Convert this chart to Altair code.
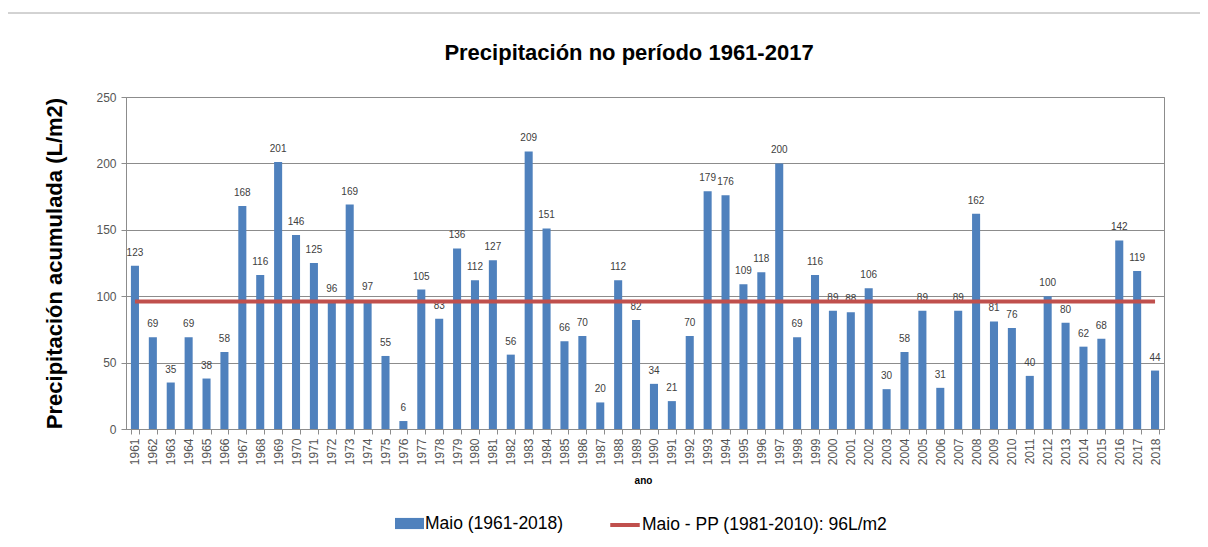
import altair as alt
import pandas as pd

years = [str(y) for y in range(1961, 2019)]
valores = [123, 69, 35, 69, 38, 58, 168, 116, 201, 146,
           125, 96, 169, 97, 55, 6, 105, 83, 136, 112,
           127, 56, 209, 151, 66, 70, 20, 112, 82, 34,
           21, 70, 179, 176, 109, 118, 200, 69, 116, 89,
           88, 106, 30, 58, 89, 31, 89, 162, 81, 76,
           40, 100, 80, 62, 68, 142, 119, 44]
media_pp = 96
serie_barras = "Maio (1961-2018)"
serie_linha = "Maio - PP (1981-2010): 96L/m2"

df = pd.DataFrame({
    "ano": years,
    "valor": valores,
    "pp": [media_pp] * len(years),
    "serie_b": serie_barras,
    "serie_l": serie_linha,
})

FONT = "Liberation Sans"
W, H = 1038, 332

xenc = alt.X("ano:N", sort=years,
             scale=alt.Scale(paddingInner=0.55, paddingOuter=0.275),
             axis=alt.Axis(title="ano", labelAngle=270, labelFontSize=12,
                           labelColor="#555555", labelFont=FONT,
                           labelPadding=4, tickSize=5, tickBand="extent",
                           tickColor="#8c8c8c", domainColor="#8c8c8c",
                           titleFontSize=10, titleFont=FONT, titleFontWeight="bold",
                           titleX=W / 2 - 2, titleY=51, titleBaseline="middle",
                           titleColor="#000000"))

base = alt.Chart(df)

bars = base.mark_bar(color="#4F81BD").encode(
    x=xenc,
    y=alt.Y("valor:Q",
            scale=alt.Scale(domain=[0, 250], nice=False),
            axis=alt.Axis(title="Precipitación acumulada (L/m2)",
                          values=[0, 50, 100, 150, 200, 250],
                          labelFontSize=12, labelColor="#555555", labelFont=FONT,
                          labelPadding=5, tickSize=5, tickColor="#8c8c8c",
                          domainColor="#8c8c8c", gridColor="#8c8c8c",
                          titleFontSize=22, titleFont=FONT, titleFontWeight="bold",
                          titleColor="#000000", titleX=-72, titleY=H / 2,
                          titleBaseline="middle", titleAngle=270)),
    fill=alt.Fill("serie_b:N",
                  scale=alt.Scale(domain=[serie_barras], range=["#4F81BD"]),
                  legend=alt.Legend(title=None, orient="none", legendX=272, legendY=415,
                                    symbolType="M-1.3,-0.5H1.3V0.5H-1.3Z",
                                    symbolSize=497, symbolStrokeWidth=0,
                                    labelFontSize=17.5, labelFont=FONT, labelLimit=400,
                                    labelColor="#000000", labelOffset=4)),
)

labels = base.mark_text(baseline="bottom", dy=-8, fontSize=10, font=FONT,
                        color="#404040").encode(
    x=alt.X("ano:N", sort=years),
    y=alt.Y("valor:Q"),
    text=alt.Text("valor:Q"),
)

line = base.mark_line(strokeWidth=4).encode(
    x=alt.X("ano:N", sort=years),
    y=alt.Y("pp:Q"),
    stroke=alt.Stroke("serie_l:N",
                      scale=alt.Scale(domain=[serie_linha], range=["#C0504D"]),
                      legend=alt.Legend(title=None, orient="none", legendX=482, legendY=411,
                                        symbolType="stroke", symbolSize=870,
                                        symbolStrokeWidth=4,
                                        labelFontSize=17.5, labelFont=FONT, labelLimit=400,
                                        labelColor="#000000", labelOffset=0)),
)

dummy = pd.DataFrame({"k": [0]})
border_left = alt.Chart(dummy).mark_rule(color="#a6a6a6").encode(
    x=alt.value(-119), y=alt.value(-84), y2=alt.value(450))
border_top = alt.Chart(dummy).mark_rule(color="#a6a6a6").encode(
    x=alt.value(-119), x2=alt.value(1110), y=alt.value(-84))

chart = alt.layer(border_left, border_top, bars, labels, line).properties(
    width=W, height=H,
    title=alt.TitleParams("Precipitación no período 1961-2017", fontSize=22,
                          font=FONT, fontWeight="bold", anchor="middle",
                          dx=-16, offset=-52, color="#000000"),
    autosize=alt.AutoSizeParams(type="none"),
    padding={"left": 118, "top": 89, "right": 36, "bottom": 108},
).configure_view(stroke="#8c8c8c", strokeWidth=1).resolve_scale(
    fill="independent", stroke="independent")

chart.save("out.html", embed_options={"renderer": "svg", "actions": False})
